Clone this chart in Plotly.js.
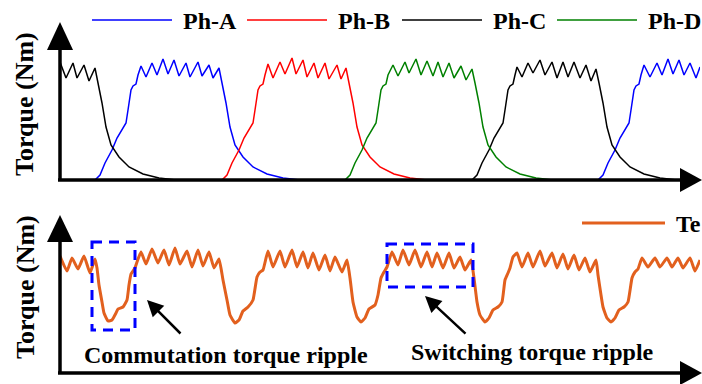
<!DOCTYPE html>
<html>
<head>
<meta charset="utf-8">
<script src="https://cdn.plot.ly/plotly-3.0.1.min.js"></script>
<style>html,body{margin:0;padding:0;background:#fff;}#chart{width:702px;height:384px;}</style>
</head>
<body>
<div id="chart"></div>
<script>
// ---------- data (rotor position units, torque units) ----------
const phaseNames = ["Ph-A", "Ph-B", "Ph-C", "Ph-D"];
const phaseColors = ["#0000FF", "#FF0000", "#000000", "#008000"];

const phA_x = [35,40,45,52,57,62,66,68,71,73,76,78,81,86,92,97,103,108,114,119,126,130,138,142,149,153,159,162,166,170,175,183,193,207,223,240,null,
               538,543,548,555,560,565,569,571,574,576,579,581,584,590,597,602,608,613,619,624,630,636,640];
const phA_y = [0,5,17,30,42,50,57,70,90,94,96,105,114,103,117,105,121,106,120,104,117,103,118,104,115,102,112,97,77,53,35,23,13,6,2,0,null,
               0,5,17,30,42,50,57,70,90,94,96,105,115,103,117,105,121,106,120,105,117,102,113];

const phB_x = [162,167,172,179,184,189,193,195,198,200,203,205,208,213,220,225,232,236,243,247,254,258,265,269,277,281,286,289,293,297,302,310,320,334,350,367];
const phB_y = [0,5,17,30,42,50,57,70,90,94,96,105,116,102,118,106,122,106,120,103,117,102,117,101,115,101,112,97,77,53,35,23,13,6,2,0];

const phC_x = [0,6,13,17,24,29,35,38,42,46,51,59,69,83,99,116,null,
               412,417,422,429,434,439,443,445,448,450,453,455,457,462,468,473,480,485,492,497,503,508,514,520,526,531,536,539,543,547,552,560,570,584,600,617];
const phC_y = [118,102,117,102,115,99,112,97,77,53,35,23,13,6,2,0,null,
               0,5,17,30,42,50,57,70,90,94,96,105,113,103,117,107,120,105,118,102,118,103,118,102,115,99,111,97,77,53,35,23,13,6,2,0];

const phD_x = [285,290,295,302,307,312,316,318,321,323,326,328,333,338,345,349,356,361,367,373,378,383,389,394,401,406,412,415,419,423,428,436,446,460,476,493];
const phD_y = [0,5,17,30,42,50,57,70,90,94,96,105,115,104,118,107,121,105,119,104,118,103,117,102,114,100,111,97,77,53,35,23,13,6,2,0];

const te_x = [0,7,12,18,24,30,35,
  37,39,42,44,48,52,56,58,63,67,69,71,75,77,81,
  86,92,98,104,109,115,120,127,132,138,143,149,154,159,
  163,167,170,175,179,183,188,193,197,200,203,208,
  213,220,225,232,237,243,248,253,259,265,270,275,282,287,
  290,293,297,301,305,309,315,318,321,324,327,332,
  338,343,349,355,361,367,372,377,383,389,394,400,405,411,
  414,417,420,425,429,433,438,442,445,448,450,453,457,
  462,468,473,480,485,492,497,503,508,514,519,525,530,536,
  538,541,543,547,551,555,559,564,568,572,575,578,582,
  588,595,600,607,612,618,623,630,635,640];
const te_y = [117,102,115,104,117,100,114,
  105,88,71,60,52,53,60,64,66,73,88,99,105,111,121,
  109,124,110,123,108,125,109,122,106,123,107,121,105,114,
  93,73,58,50,53,62,66,73,96,101,103,122,
  106,122,106,123,106,121,105,120,103,118,102,116,101,113,
  95,71,56,51,55,64,68,78,95,101,106,121,
  108,123,108,123,106,121,106,120,105,120,105,116,103,113,
  95,71,58,51,55,63,66,71,93,100,105,116,120,
  106,120,106,122,107,120,105,119,104,118,103,115,101,113,
  98,78,66,55,51,55,63,66,71,95,101,104,115,
  106,115,106,115,106,115,105,115,102,113];

// ---------- layout helpers (pixel -> paper) ----------
const W = 702, H = 384;
const px = v => v / W;
const py = v => 1 - v / H;
const path = pts => "M " + pts.map(p => px(p[0]) + "," + py(p[1])).join(" L ") + " Z";
const serif = {family: "Liberation Serif", size: 24, color: "#000", weight: "bold"};

const phaseX = [phA_x, phB_x, phC_x, phD_x];
const phaseY = [phA_y, phB_y, phC_y, phD_y];

const traces = phaseNames.map((n, i) => ({
  x: phaseX[i], y: phaseY[i], name: n, type: "scatter", mode: "lines",
  line: {color: phaseColors[i], width: 1.5}, xaxis: "x", yaxis: "y",
  connectgaps: false, showlegend: false, hoverinfo: "skip"
}));
traces.push({
  x: te_x, y: te_y, name: "Te", type: "scatter", mode: "lines",
  line: {color: "#E2601E", width: 3, shape: "spline", smoothing: 0.4},
  xaxis: "x2", yaxis: "y2", showlegend: false, hoverinfo: "skip"
});

const blk = {color: "#000", width: 3.5};
const shapes = [
  // top axes
  {type: "line", xref: "paper", yref: "paper", x0: px(60), y0: py(181), x1: px(60), y1: py(48), line: blk},
  {type: "path", xref: "paper", yref: "paper", path: path([[47,50],[73,50],[60,22]]), fillcolor: "#000", line: {width: 0}},
  {type: "line", xref: "paper", yref: "paper", x0: px(58), y0: py(180), x1: px(684), y1: py(180), line: blk},
  {type: "path", xref: "paper", yref: "paper", path: path([[680,168],[680,192],[702,180]]), fillcolor: "#000", line: {width: 0}},
  // bottom axes
  {type: "line", xref: "paper", yref: "paper", x0: px(60), y0: py(374), x1: px(60), y1: py(240), line: blk},
  {type: "path", xref: "paper", yref: "paper", path: path([[47,242],[73,242],[60,215]]), fillcolor: "#000", line: {width: 0}},
  {type: "line", xref: "paper", yref: "paper", x0: px(58), y0: py(373), x1: px(684), y1: py(373), line: blk},
  {type: "path", xref: "paper", yref: "paper", path: path([[680,361],[680,385],[702,373]]), fillcolor: "#000", line: {width: 0}},
  // dashed highlight boxes
  {type: "rect", xref: "paper", yref: "paper", x0: px(92), y0: py(242), x1: px(135), y1: py(330), line: {color: "#0000FF", width: 3, dash: "10px,7px"}},
  {type: "rect", xref: "paper", yref: "paper", x0: px(387), y0: py(244), x1: px(473), y1: py(287), line: {color: "#0000FF", width: 3, dash: "10px,7px"}}
];
// manual legend lines
const legX = [92, 247, 402, 557];
phaseNames.forEach((n, i) => {
  shapes.push({type: "line", xref: "paper", yref: "paper", x0: px(legX[i]), y0: py(20), x1: px(legX[i] + 80), y1: py(20), line: {color: phaseColors[i], width: 1.5}});
});
shapes.push({type: "line", xref: "paper", yref: "paper", x0: px(582), y0: py(223), x1: px(665), y1: py(223), line: {color: "#E2601E", width: 3}});

const ann = [];
phaseNames.forEach((n, i) => {
  ann.push({text: n, xref: "paper", yref: "paper", x: px(legX[i] + 89), y: py(21), xanchor: "left", yanchor: "middle", showarrow: false, font: serif});
});
ann.push({text: "Te", xref: "paper", yref: "paper", x: px(674), y: py(224), xanchor: "left", yanchor: "middle", showarrow: false, font: serif});
ann.push({text: "Torque (Nm)", xref: "paper", yref: "paper", x: px(25), y: py(104), textangle: -90, xanchor: "center", yanchor: "middle", showarrow: false, font: Object.assign({}, serif, {size: 26})});
ann.push({text: "Torque (Nm)", xref: "paper", yref: "paper", x: px(25), y: py(287), textangle: -90, xanchor: "center", yanchor: "middle", showarrow: false, font: Object.assign({}, serif, {size: 26})});
ann.push({text: "Commutation torque ripple", xref: "paper", yref: "paper", x: px(226), y: py(355), xanchor: "center", yanchor: "middle", showarrow: false, font: serif});
ann.push({text: "Switching torque ripple", xref: "paper", yref: "paper", x: px(532), y: py(352), xanchor: "center", yanchor: "middle", showarrow: false, font: serif});
ann.push({text: "", xref: "paper", yref: "paper", x: px(147), y: py(300), ax: 35, ay: 35, showarrow: true, arrowhead: 2, arrowsize: 1.3, arrowwidth: 2.5, arrowcolor: "#000", standoff: 0});
ann.push({text: "", xref: "paper", yref: "paper", x: px(425), y: py(296), ax: 42, ay: 39, showarrow: true, arrowhead: 2, arrowsize: 1.3, arrowwidth: 2.5, arrowcolor: "#000", standoff: 0});

const hidden = {showgrid: false, zeroline: false, showticklabels: false, ticks: "", showline: false, fixedrange: true};
const layout = {
  width: W, height: H,
  margin: {l: 0, r: 0, t: 0, b: 0},
  paper_bgcolor: "#fff", plot_bgcolor: "rgba(0,0,0,0)",
  showlegend: false,
  xaxis: Object.assign({domain: [60 / W, 700 / W], range: [0, 640], anchor: "y"}, hidden),
  yaxis: Object.assign({domain: [1 - 180 / H, 1], range: [0, 180], anchor: "x"}, hidden),
  xaxis2: Object.assign({domain: [60 / W, 700 / W], range: [0, 640], anchor: "y2"}, hidden),
  yaxis2: Object.assign({domain: [(H - 373) / H, (H - 190) / H], range: [0, 183], anchor: "x2"}, hidden),
  shapes: shapes,
  annotations: ann
};
Plotly.newPlot("chart", traces, layout, {staticPlot: true, displayModeBar: false});
</script>
</body>
</html>
